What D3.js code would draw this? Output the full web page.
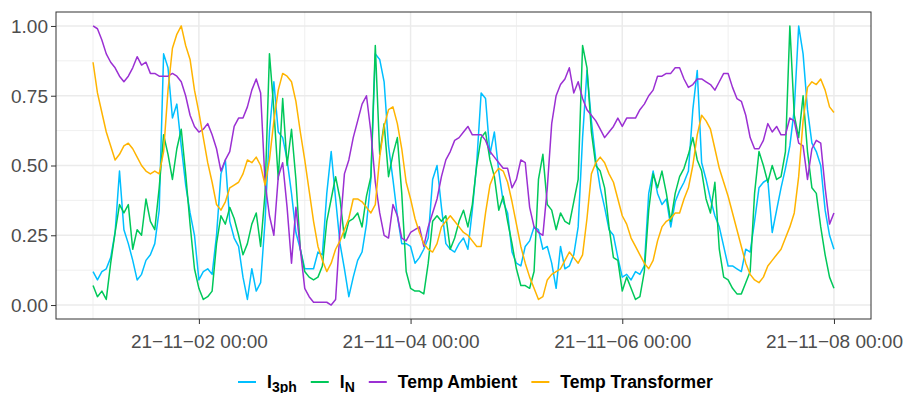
<!DOCTYPE html>
<html>
<head>
<meta charset="utf-8">
<script src="https://cdn.jsdelivr.net/npm/d3@7"></script>
<style>
  body { margin: 0; background: #fff; }
  svg { display: block; font-family: "Liberation Sans", Arial, sans-serif; }
</style>
</head>
<body>
<svg id="chart" width="907" height="393"></svg>
<script>
// hourly readings, 2021-11-01 00:00 .. 2021-11-08 00:00 (UTC)
const startTime = Date.UTC(2021, 10, 1, 0, 0);
const hourMs = 3600 * 1000;

const i3ph = [
  0.12,0.09,0.12,0.13,0.17,0.26,0.48,0.27,0.22,0.16,0.09,0.11,0.16,0.18,0.22,0.34,0.90,0.85,0.67,0.72,0.57,0.43,0.33,0.25,
  0.09,0.12,0.13,0.11,0.25,0.47,0.52,0.30,0.24,0.21,0.10,0.02,0.13,0.05,0.08,0.30,0.62,0.80,0.62,0.60,0.52,0.40,0.26,0.20,
  0.13,0.13,0.13,0.19,0.18,0.40,0.55,0.38,0.22,0.13,0.03,0.10,0.16,0.19,0.29,0.45,0.90,0.88,0.80,0.57,0.45,0.32,0.22,0.22,
  0.21,0.15,0.17,0.20,0.24,0.45,0.50,0.35,0.22,0.20,0.19,0.22,0.24,0.20,0.34,0.51,0.76,0.74,0.54,0.62,0.48,0.37,0.33,0.19,
  0.15,0.14,0.21,0.23,0.28,0.27,0.20,0.21,0.15,0.06,0.21,0.13,0.14,0.18,0.28,0.60,0.84,0.66,0.52,0.42,0.35,0.27,0.25,0.17,
  0.10,0.11,0.09,0.12,0.11,0.14,0.40,0.48,0.40,0.36,0.38,0.28,0.37,0.41,0.44,0.48,0.70,0.84,0.51,0.45,0.38,0.32,0.28,0.21,
  0.14,0.14,0.13,0.12,0.20,0.19,0.30,0.42,0.44,0.45,0.26,0.34,0.42,0.49,0.57,0.70,1.00,0.90,0.70,0.58,0.55,0.50,0.34,0.25,
  0.20
];
const iN = [
  0.07,0.03,0.05,0.02,0.15,0.26,0.36,0.33,0.36,0.20,0.27,0.25,0.38,0.30,0.27,0.42,0.61,0.54,0.45,0.56,0.63,0.47,0.29,0.13,
  0.06,0.02,0.03,0.05,0.22,0.32,0.29,0.35,0.31,0.25,0.18,0.22,0.29,0.33,0.21,0.40,0.90,0.70,0.45,0.74,0.50,0.63,0.45,0.20,
  0.12,0.10,0.09,0.10,0.14,0.30,0.38,0.46,0.38,0.24,0.30,0.31,0.33,0.28,0.39,0.46,0.93,0.54,0.65,0.46,0.54,0.60,0.40,0.12,
  0.06,0.05,0.05,0.04,0.15,0.30,0.32,0.30,0.32,0.20,0.24,0.30,0.34,0.28,0.36,0.50,0.60,0.62,0.52,0.46,0.34,0.39,0.30,0.22,
  0.13,0.07,0.07,0.06,0.12,0.45,0.54,0.36,0.34,0.27,0.33,0.30,0.29,0.37,0.45,0.93,0.85,0.62,0.50,0.48,0.42,0.28,0.17,0.16,
  0.05,0.10,0.06,0.02,0.03,0.12,0.34,0.47,0.42,0.48,0.40,0.30,0.40,0.46,0.49,0.54,0.60,0.52,0.48,0.38,0.33,0.44,0.20,0.10,
  0.09,0.06,0.04,0.04,0.08,0.12,0.40,0.55,0.50,0.44,0.50,0.45,0.46,0.55,1.00,0.68,0.60,0.75,0.55,0.42,0.40,0.28,0.18,0.10,
  0.06
];
const tempAmbient = [
  1.00,0.99,0.95,0.90,0.87,0.85,0.82,0.80,0.82,0.85,0.89,0.86,0.87,0.83,0.83,0.82,0.82,0.82,0.83,0.82,0.80,0.75,0.68,0.64,
  0.62,0.63,0.65,0.61,0.56,0.48,0.52,0.55,0.64,0.67,0.67,0.71,0.77,0.81,0.76,0.44,0.32,0.25,0.46,0.51,0.35,0.15,0.35,0.20,
  0.06,0.03,0.01,0.01,0.01,0.01,0.00,0.02,0.27,0.47,0.52,0.60,0.66,0.72,0.75,0.62,0.44,0.33,0.25,0.24,0.36,0.32,0.24,0.23,
  0.26,0.27,0.28,0.21,0.28,0.33,0.38,0.46,0.52,0.55,0.59,0.60,0.62,0.64,0.61,0.61,0.61,0.59,0.55,0.53,0.51,0.49,0.49,0.42,
  0.45,0.52,0.51,0.35,0.28,0.26,0.25,0.42,0.65,0.75,0.79,0.81,0.85,0.76,0.80,0.74,0.70,0.68,0.66,0.63,0.60,0.62,0.64,0.67,
  0.64,0.67,0.67,0.67,0.70,0.72,0.75,0.77,0.82,0.82,0.83,0.83,0.85,0.85,0.81,0.78,0.79,0.81,0.81,0.80,0.79,0.77,0.80,0.83,
  0.83,0.78,0.74,0.73,0.68,0.60,0.56,0.56,0.59,0.65,0.62,0.64,0.61,0.61,0.67,0.66,0.58,0.57,0.45,0.56,0.59,0.58,0.42,0.29,
  0.33
];
const tempTransformer = [
  0.87,0.76,0.69,0.62,0.57,0.52,0.54,0.57,0.58,0.56,0.53,0.50,0.48,0.47,0.48,0.47,0.55,0.77,0.92,0.97,1.00,0.93,0.88,0.77,
  0.69,0.60,0.51,0.44,0.36,0.34,0.37,0.42,0.43,0.44,0.47,0.52,0.51,0.53,0.50,0.43,0.52,0.66,0.77,0.83,0.82,0.80,0.73,0.62,
  0.52,0.41,0.30,0.21,0.16,0.12,0.15,0.20,0.23,0.27,0.31,0.38,0.38,0.37,0.35,0.33,0.36,0.53,0.64,0.70,0.71,0.65,0.56,0.44,
  0.38,0.31,0.26,0.22,0.20,0.19,0.22,0.28,0.30,0.32,0.30,0.28,0.26,0.25,0.23,0.21,0.21,0.33,0.43,0.47,0.49,0.48,0.44,0.37,
  0.29,0.21,0.15,0.10,0.06,0.02,0.03,0.09,0.11,0.12,0.13,0.16,0.19,0.17,0.15,0.18,0.31,0.47,0.51,0.53,0.51,0.47,0.44,0.38,
  0.32,0.29,0.24,0.21,0.18,0.15,0.13,0.16,0.23,0.28,0.30,0.31,0.33,0.33,0.38,0.42,0.50,0.61,0.68,0.66,0.63,0.56,0.49,0.44,
  0.39,0.33,0.27,0.21,0.15,0.11,0.09,0.08,0.10,0.14,0.16,0.18,0.20,0.24,0.28,0.33,0.46,0.66,0.78,0.80,0.79,0.81,0.77,0.71,
  0.69
];

const seriesNames = ["I3ph", "IN", "Temp Ambient", "Temp Transformer"];
const seriesColors = ["#00BFFF", "#00C85A", "#9B30D3", "#FFB400"];
const seriesValues = [i3ph, iN, tempAmbient, tempTransformer];
const xTickDates = [Date.UTC(2021, 10, 2), Date.UTC(2021, 10, 4), Date.UTC(2021, 10, 6), Date.UTC(2021, 10, 8)];
const xMinorDates = [Date.UTC(2021, 10, 1), Date.UTC(2021, 10, 3), Date.UTC(2021, 10, 5), Date.UTC(2021, 10, 7)];
const yTicks = [0, 0.25, 0.5, 0.75, 1];
const yMinor = [0.125, 0.375, 0.625, 0.875];

const panel = {left: 56, right: 871, top: 12, bottom: 319};
const svg = d3.select("#chart");

const t0 = startTime, t1 = startTime + (i3ph.length - 1) * hourMs;
const pad = (t1 - t0) * 0.05;
const x = d3.scaleUtc()
    .domain([new Date(t0 - pad), new Date(t1 + pad)])
    .range([panel.left, panel.right]);
const y = d3.scaleLinear()
    .domain([-0.05, 1.05])
    .range([panel.bottom, panel.top]);

// grid
const grid = svg.append("g");
grid.selectAll(".ymin").data(yMinor).enter().append("line")
    .attr("x1", panel.left).attr("x2", panel.right)
    .attr("y1", d => y(d)).attr("y2", d => y(d))
    .attr("stroke", "#EBEBEB").attr("stroke-width", 0.8);
grid.selectAll(".xmin").data(xMinorDates).enter().append("line")
    .attr("y1", panel.top).attr("y2", panel.bottom)
    .attr("x1", d => x(d)).attr("x2", d => x(d))
    .attr("stroke", "#EBEBEB").attr("stroke-width", 0.8);
grid.selectAll(".ymaj").data(yTicks).enter().append("line")
    .attr("x1", panel.left).attr("x2", panel.right)
    .attr("y1", d => y(d)).attr("y2", d => y(d))
    .attr("stroke", "#EBEBEB").attr("stroke-width", 1.5);
grid.selectAll(".xmaj").data(xTickDates).enter().append("line")
    .attr("y1", panel.top).attr("y2", panel.bottom)
    .attr("x1", d => x(d)).attr("x2", d => x(d))
    .attr("stroke", "#EBEBEB").attr("stroke-width", 1.5);

// lines
const line = d3.line()
    .x((d, i) => x(new Date(startTime + i * hourMs)))
    .y(d => y(d));
seriesValues.forEach((vals, k) => {
    svg.append("path")
        .datum(vals)
        .attr("fill", "none")
        .attr("stroke", seriesColors[k])
        .attr("stroke-width", 1.5)
        .attr("stroke-linejoin", "round")
        .attr("d", line);
});

// border
svg.append("rect")
    .attr("x", panel.left).attr("y", panel.top)
    .attr("width", panel.right - panel.left).attr("height", panel.bottom - panel.top)
    .attr("fill", "none").attr("stroke", "#333").attr("stroke-width", 1);

// axes
const fmt = d3.utcFormat("%y-%m-%d %H:%M");
const xAxis = svg.append("g")
    .attr("transform", `translate(0,${panel.bottom})`)
    .call(d3.axisBottom(x).tickValues(xTickDates.map(d => new Date(d)))
        .tickSize(5).tickPadding(6)
        .tickFormat(d => fmt(d).replace(/-/g, "\u2212")));
const yAxis = svg.append("g")
    .attr("transform", `translate(${panel.left},0)`)
    .call(d3.axisLeft(y).tickValues(yTicks).tickSize(5).tickPadding(3)
        .tickFormat(d3.format(".2f")));
[xAxis, yAxis].forEach(a => {
    a.select(".domain").remove();
    a.selectAll(".tick line").attr("stroke", "#333").attr("stroke-width", 1);
    a.selectAll(".tick text").attr("fill", "#4D4D4D")
        .attr("font-size", "19px").attr("font-family", "Liberation Sans, Arial, sans-serif");
});
xAxis.selectAll(".tick text").attr("dy", "0.95em");
yAxis.selectAll(".tick text").attr("dy", "0.34em");

// legend
const legend = svg.append("g").attr("font-weight", "bold").attr("font-size", "17.5px").attr("fill", "#000");
let lx = 238;
const ly = 382;
seriesNames.forEach((name, k) => {
    legend.append("line")
        .attr("x1", lx).attr("x2", lx + 18)
        .attr("y1", ly).attr("y2", ly)
        .attr("stroke", seriesColors[k]).attr("stroke-width", 2);
    const t = legend.append("text").attr("x", lx + 29).attr("y", ly + 6);
    if (k < 2) {
        t.append("tspan").text("I");
        t.append("tspan").attr("font-size", "14px").attr("dy", 3.5).text(k === 0 ? "3ph" : "N");
    } else {
        t.text(name);
    }
    lx += 29 + t.node().getComputedTextLength() + 14;
});
</script>
</body>
</html>
